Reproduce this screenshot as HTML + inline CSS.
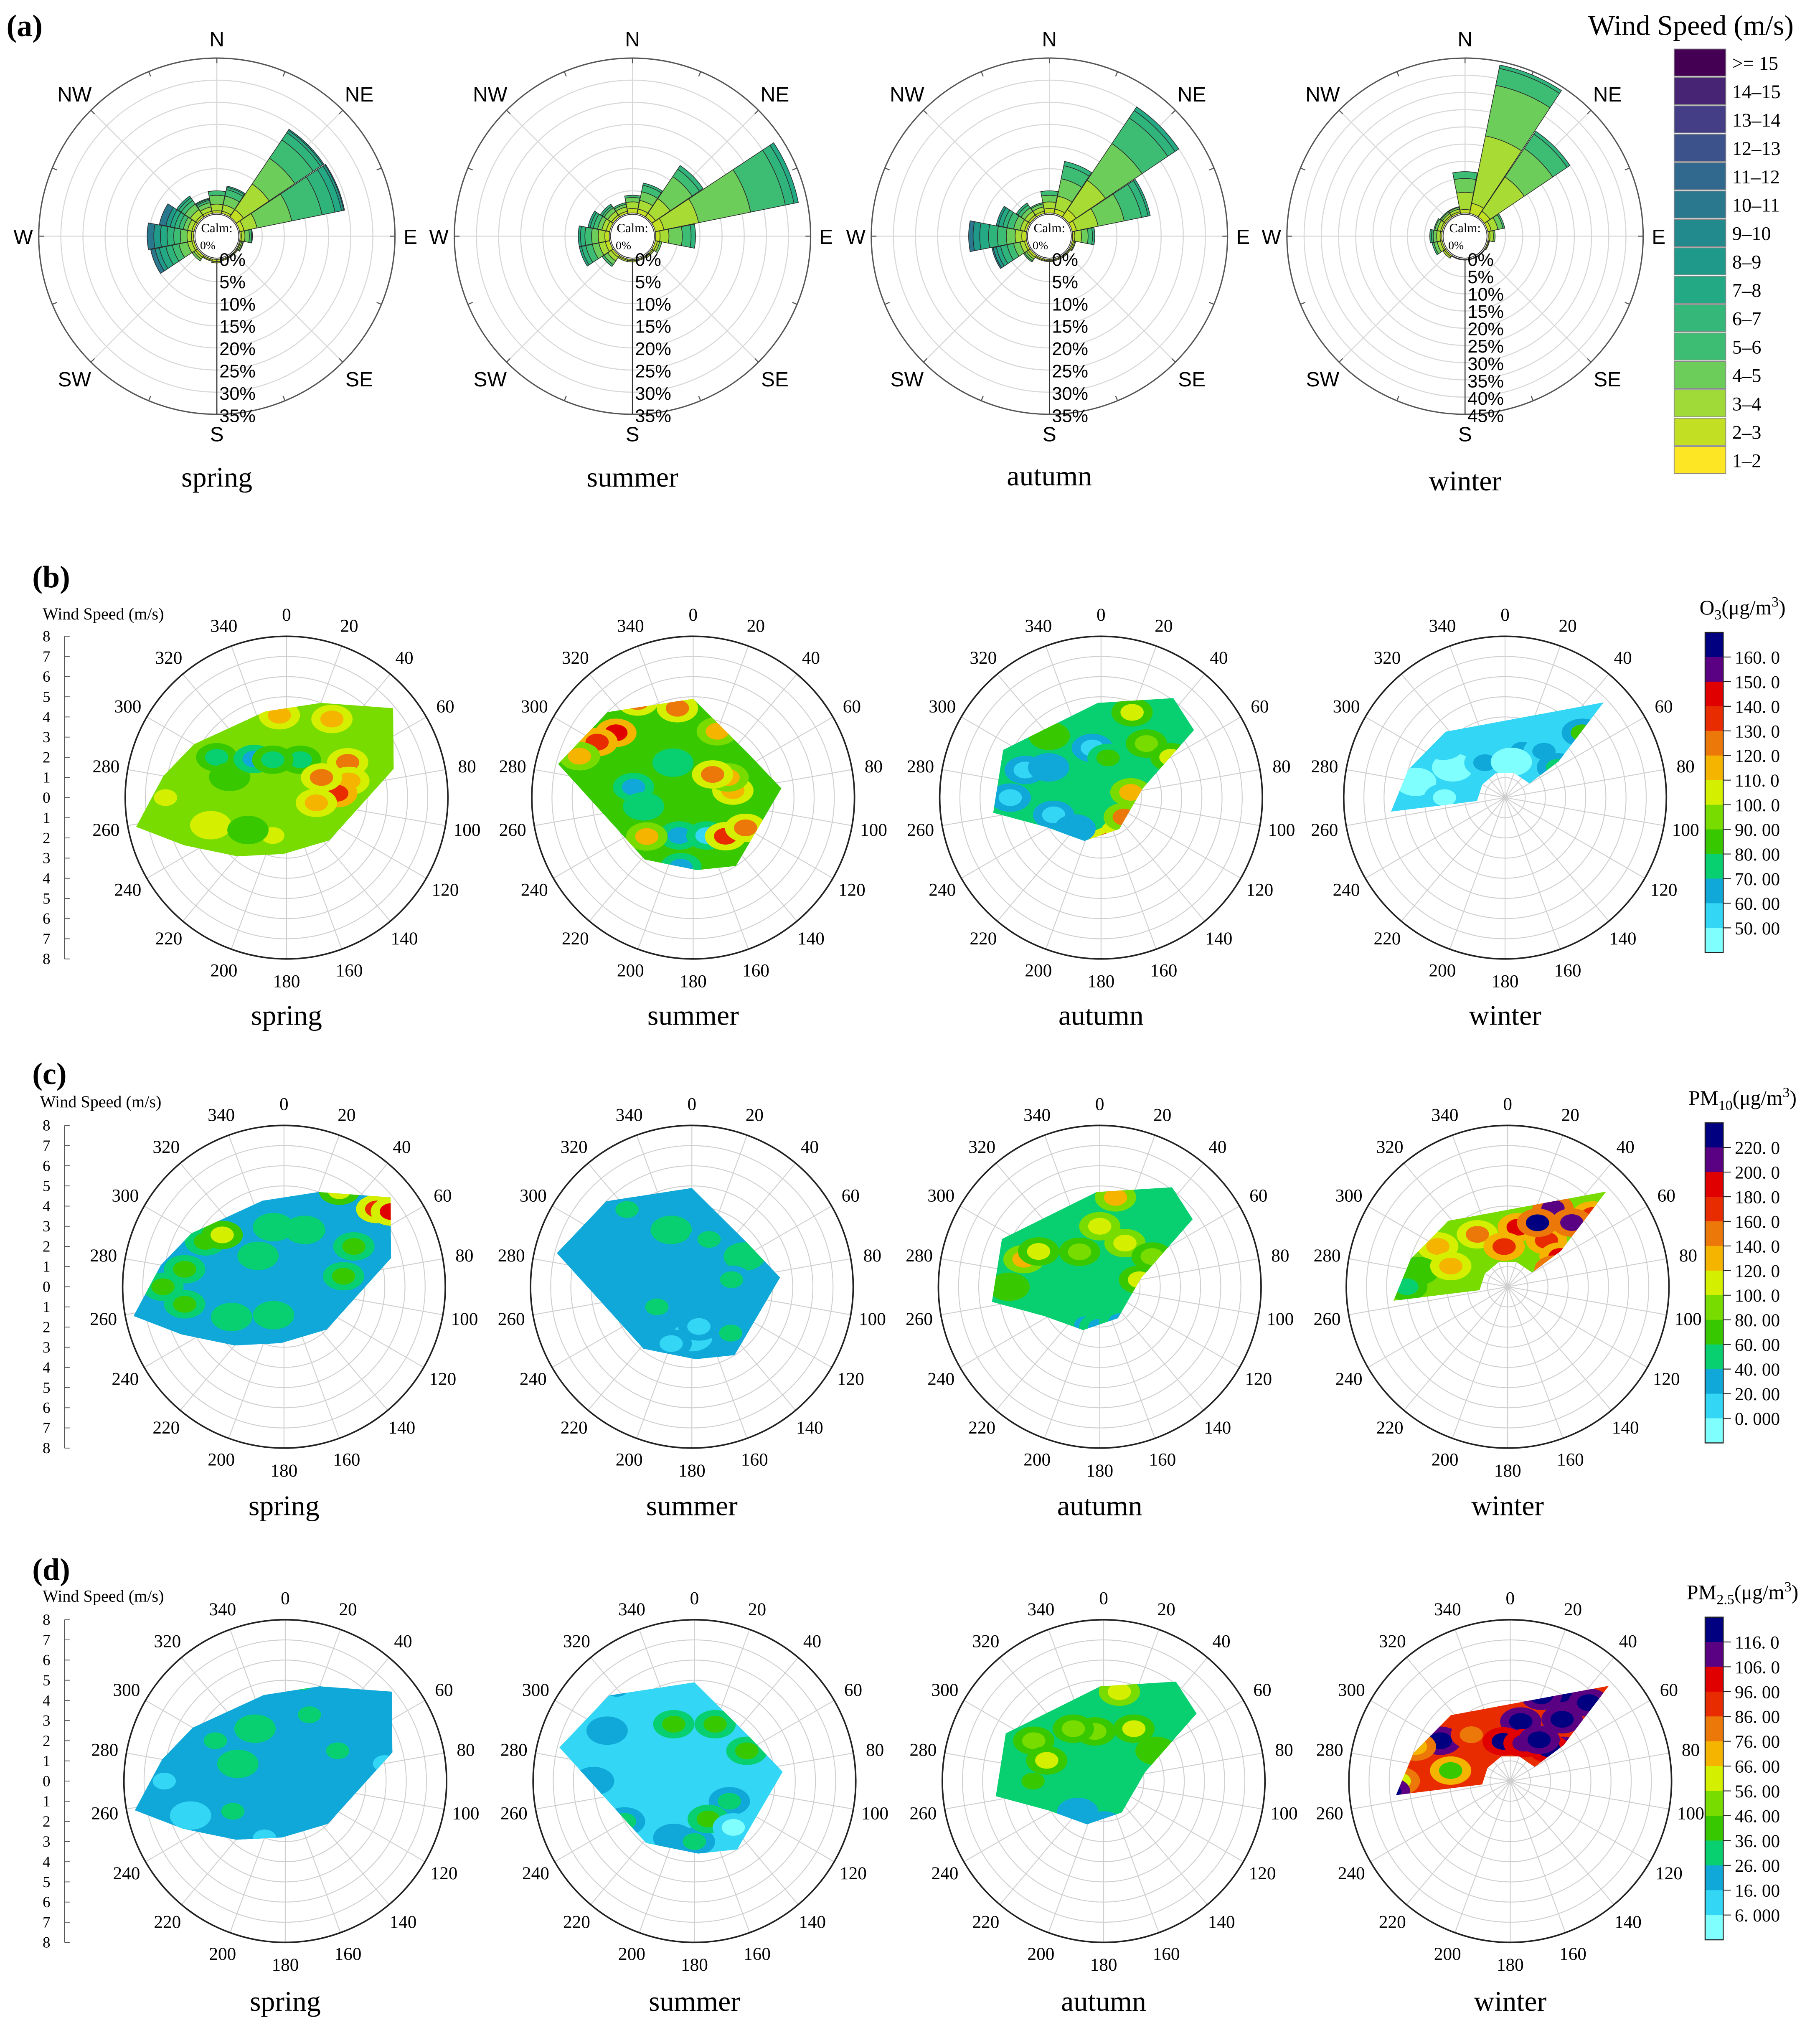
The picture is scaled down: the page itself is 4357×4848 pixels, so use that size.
<!DOCTYPE html>
<html><head><meta charset="utf-8">
<style>
html,body{margin:0;padding:0;background:#fff;}
svg{display:block;}
</style></head>
<body>
<svg id="fig" xmlns="http://www.w3.org/2000/svg" width="4357" height="4848" viewBox="0 0 1410 1569" preserveAspectRatio="none">
<rect x="0" y="0" width="1410" height="1569" fill="#fff"/>
</svg>
<script>
// ---------- DATA ----------
const dirLabels16 = ['N','NNE','NE','ENE','E','ESE','SE','SSE','S','SSW','SW','WSW','W','WNW','NW','NNW'];
const speedBinLabels = ['>= 15','14–15','13–14','12–13','11–12','10–11','9–10','8–9','7–8','6–7','5–6','4–5','3–4','2–3','1–2'];
const speedBinColors = ['#440154','#482475','#433e85','#3b528b','#31688e','#2a788e','#228a8d','#1f9a8a','#23a983','#35b779','#3dbc74','#6ccd5a','#a0da39','#c2df23','#fde725'];
// per-direction stacked frequencies (%) for bins 2-3,3-4,4-5,5-6,6-7,7-8,8-10,10+
const roseSpring = [
 [0.5,1.5,2,1],[0.5,1.5,2,1.5,0.5,0.3],[2,7,7,5,2,0.6,0.3],[1,3,8,7,3,1.5,0.5,0.2],
 [0.3,0.8,1,0.5,0.2],[0.2,0.3,0.3,0.1],[0.2,0.2],[0.2,0.2],
 [0.5,0.3],[0.3,0.2],[0.5,0.5,0.5],[0.5,1,2,1.5,1.5,1.5,1,1],
 [0.5,1,1.5,1.5,1.5,1.5,1.5,1.5],[0.5,1,1,1,1,1,1,1.5],[0.5,1.5,1.5,1,0.7,0.5],[0.5,1,1,0.5,0.3,0.2]];
const roseSummer = [
 [1,1.5,1,0.5],[1,2,2,1.5,0.5],[1,4,6,2,1],[2,8,12,8,2,1],
 [1,2,3,2,1],[0.5,0.5,0.5],[0.3,0.3],[0.2,0.2],
 [0.3,0.3],[0.3,0.3],[0.5,1,1,0.5],[1,1.5,1.5,1.5,1,0.5],
 [1,1.5,1.5,1.5,1,0.5],[0.8,1,1,1,0.7,0.5],[0.5,1,1,0.5,0.5],[0.5,1,0.6,0.4]];
const roseAutumn = [
 [1,1.5,1.5,1],[1,3,4,3,1],[2,8,10,7,2,1],[1,5,6,4,1.5,0.5],
 [0.5,1.5,1.5,1,0.5],[0.3,0.3,0.2],[0.2,0.2],[0.2,0.2],
 [0.3,0.2],[0.3,0.2],[0.5,0.5,0.5,0.3],[0.5,1,1.5,1.5,1.5,1,0.7,0.3],
 [1,1.5,2,2,2,2,1.5,1],[0.5,1,1.5,1.5,1,1,0.5],[0.5,1,1,0.8,0.5],[0.5,1,0.7,0.3]];
const roseWinter = [
 [1,5,4,2],[3,20,15,5,1],[2,12,10,5,1],[1,2,1.5,0.5],
 [0.5,1,0.5],[0.3,0.2],[0.2],[0.2],
 [0.2],[0.2],[0.5,0.5],[0.5,1,1,0.5],
 [0.5,1,1,0.5,0.5],[0.5,1,0.7,0.3],[0.5,0.7,0.5,0.3],[0.5,0.8,0.5,0.2]];
const roseBinColors = ['#c2df23','#a8db34','#6ccd5a','#3dbc74','#2fb47c','#23a983','#1f9a8a','#2a788e'];
const roseTicksA = ['0%','5%','10%','15%','20%','25%','30%','35%'];
const roseTicksW = ['0%','5%','10%','15%','20%','25%','30%','35%','40%','45%'];
const seasons = ['spring','summer','autumn','winter'];

const angleTicks = [0,20,40,60,80,100,120,140,160,180,200,220,240,260,280,300,320,340];
const speedTicks = [8,7,6,5,4,3,2,1,0,1,2,3,4,5,6,7,8];

const palette = ['#80ffff','#33d6f4','#10a8d8','#08d070','#38c800','#78dc00','#d4f000','#f4b400','#ec780a','#e82c00','#e00000','#5a0082','#000080'];
const breaksO3 = [50,60,70,80,90,100,110,120,130,140,150,160];
const breaksPM10 = [0,20,40,60,80,100,120,140,160,180,200,220];
const breaksPM25 = [6,16,26,36,46,56,66,76,86,96,106,116];
const labelsO3 = ['160. 0','150. 0','140. 0','130. 0','120. 0','110. 0','100. 0','90. 00','80. 00','70. 00','60. 00','50. 00'];
const labelsPM10 = ['220. 0','200. 0','180. 0','160. 0','140. 0','120. 0','100. 0','80. 00','60. 00','40. 00','20. 00','0. 000'];
const labelsPM25 = ['116. 0','106. 0','96. 00','86. 00','76. 00','66. 00','56. 00','46. 00','36. 00','26. 00','16. 00','6. 000'];

// hulls [direction deg, wind speed m/s]
const hullSpring = [[259,7.6],[280,6.2],[300,5.3],[346,4.4],[20,5],[50,6.9],[75,5.5],[135,3],[183,2.8],[220,3.8],[245,5.6]];
const hullSummer = [[284,6.9],[315,6],[0,4.9],[51,3.5],[84,4.4],[148,4],[177,3.6],[218,3.9]];
const hullAutumn = [[262,5.4],[296,5.4],[358,4.7],[36,6.1],[54,5.7],[78,2.1],[150,1.8],[201,2.3],[242,3.1]];
const hullWinter = [[263,5.7],[286,5],[318,4.4],[46,6.8],[56,3.2],[60,1.4],[20,1.3],[340,1.3],[300,1.3],[263,1.4]];

// base value + blobs [direction, speed, value]
const baseO3 = [93,85,72,52];
const blobsO3Spring = [[355,4.1,115],[30,4.5,112],[60,3.5,125],[75,3.2,118],[85,2.5,130],[300,4,70],[290,3,82],[320,2.5,65],[270,6,105],[250,4,108],[20,2,75],[200,2,105],[230,2.5,85],[60,2,120],[100,1.5,110],[340,2,70],[280,5,95]];
const blobsO3Summer = [[310,5,145],[300,5.5,138],[330,5.5,125],[350,4.5,120],[20,3.5,110],[200,2,60],[160,2,55],[140,2.5,130],[120,3,120],[80,2,115],[60,2,112],[280,3,65],[260,2.5,70],[230,3,110],[190,3.5,60],[290,6,110],[40,1.5,125],[330,2,70]];
const blobsO3Autumn = [[270,4.5,55],[290,4,52],[300,3,60],[20,4.5,105],[40,3.5,95],[60,4,100],[150,2,145],[170,2.2,135],[130,1.5,125],[80,1.5,110],[350,2.5,58],[250,2.5,55],[320,4,88],[10,2,85],[220,2,65]];
const blobsO3Winter = [[300,3,45],[280,4.5,45],[330,2,62],[20,2.5,62],[40,3,65],[50,5,80],[60,3,70],[10,1.8,45],[270,3,48],[310,4,58]];
const basePM10 = [30,30,55,85];
const blobsPM10Spring = [[50,6,170],[55,6.5,195],[30,5.5,100],[300,4.5,70],[310,4,110],[280,5,60],[350,3,55],[20,3,50],[60,4,60],[260,5,60],[240,3,50],[80,3,70],[320,2,50],[270,6,70],[200,1.5,50]];
const blobsPM10Summer = [[180,2.5,5],[170,2,12],[200,3,15],[340,3,50],[20,2.5,45],[60,3,50],[300,5,20],[80,2,45],[140,3,40],[240,2,45],[320,5,45]];
const blobsPM10Autumn = [[10,4.5,130],[0,3,110],[290,4,130],[300,3.5,100],[30,2.5,110],[60,3,90],[200,2,35],[180,2,30],[240,3,40],[150,2,35],[330,2,85],[270,4.5,75],[80,2,100]];
const blobsPM10Winter = [[20,5,230],[30,4.5,210],[10,3,180],[40,3,170],[60,3,190],[330,3,150],[300,4,130],[280,4.5,60],[270,5,40],[320,5,100],[50,5.5,175],[355,2,160],[70,2.5,200],[290,3,120],[25,3.5,230],[45,4.5,200]];
const basePM25 = [20,12,30,92];
const blobsPM25Spring = [[270,6,12],[250,5,10],[200,3,12],[300,4,30],[330,3,32],[20,3.5,30],[60,3,28],[290,2.5,35],[10,5,30],[80,5,12],[240,3,28]];
const blobsPM25Summer = [[300,5,20],[270,5,20],[200,3,20],[180,3,28],[340,3,40],[20,3,45],[60,3,40],[120,2,30],[160,2,40],[320,6,18],[240,4,30],[140,3,5]];
const blobsPM25Autumn = [[10,4.5,65],[30,3,60],[350,2.5,55],[300,4,50],[330,3,48],[60,3,45],[220,2,20],[180,2.2,18],[270,3.5,40],[290,3,60],[90,1.5,35]];
const blobsPM25Winter = [[30,5,125],[40,4,120],[10,3,120],[60,3,122],[50,2.5,118],[20,4.5,125],[45,5.5,125],[300,4,125],[290,5,70],[270,5.5,60],[265,6,125],[320,3,80],[350,2,118],[20,2,110],[280,3,40],[330,5,55],[35,2.5,125]];

// ---------- DRAWING ----------
const NS='http://www.w3.org/2000/svg';
const svg=document.getElementById('fig');
function el(tag,attrs,parent){const e=document.createElementNS(NS,tag);for(const k in attrs)e.setAttribute(k,attrs[k]);(parent||svg).appendChild(e);return e;}
function txt(x,y,s,size,fam,parent,anchor,weight){const t=el('text',{x:x,y:y,'font-size':size,'font-family':fam,'text-anchor':anchor||'middle','fill':'#000'},parent);if(weight)t.setAttribute('font-weight',weight);t.textContent=s;return t;}
const SERIF='"Liberation Serif", serif', SANS='"Liberation Sans", sans-serif';
function pol(cx,cy,r,deg){const a=deg*Math.PI/180;return [cx+r*Math.sin(a),cy-r*Math.cos(a)];}
function sector(cx,cy,r0,r1,a0,a1){const p1=pol(cx,cy,r0,a0),p2=pol(cx,cy,r1,a0),p3=pol(cx,cy,r1,a1),p4=pol(cx,cy,r0,a1);
 return `M${p1[0]},${p1[1]}L${p2[0]},${p2[1]}A${r1},${r1} 0 0 1 ${p3[0]},${p3[1]}L${p4[0]},${p4[1]}A${r0},${r0} 0 0 0 ${p1[0]},${p1[1]}Z`;}

// panel letters
[['(a)',5,28],['(b)',25,455],['(c)',25,840],['(d)',25,1224]].forEach(p=>{
 const t=txt(p[1],p[2],p[0],24,SERIF,svg,'start','bold');
 
 
});

// ---- wind roses ----
const roseData=[roseSpring,roseSummer,roseAutumn,roseWinter];
const roseCx=[168,490,813,1135];
const roseCy=183, roseR=138, calmR=18;
roseData.forEach((data,si)=>{
 const cx=roseCx[si];
 const maxPct = si===3?45:35;
 const ticks = si===3?roseTicksW:roseTicksA;
 const g=el('g',{});
 
 
 const rr=p=>calmR+p/maxPct*(roseR-calmR);
 for(let k=1;k<ticks.length-1;k++){
  el('circle',{cx:cx,cy:roseCy,r:rr(k*5),fill:'none',stroke:'#d8d8d8','stroke-width':0.8},g);
 }
 for(let a=0;a<360;a+=45){const p=pol(cx,roseCy,roseR,a);el('line',{x1:cx,y1:roseCy,x2:p[0],y2:p[1],stroke:'#d8d8d8','stroke-width':0.8},g);}
 el('circle',{cx:cx,cy:roseCy,r:roseR,fill:'none',stroke:'#555','stroke-width':1},g);
 for(let a=0;a<360;a+=22.5){const p=pol(cx,roseCy,roseR,a),q=pol(cx,roseCy,roseR-4,a);el('line',{x1:p[0],y1:p[1],x2:q[0],y2:q[1],stroke:'#555','stroke-width':0.8},g);}
 data.forEach((bins,di)=>{
  let cum=0;const a=di*22.5;
  bins.forEach((v,bi)=>{
   const p=el('path',{d:sector(cx,roseCy,rr(cum),rr(cum+v),a-11,a+11),fill:roseBinColors[bi],stroke:'#2a2a2a','stroke-width':0.5},g);
   
   
   cum+=v;
  });
 });
 el('circle',{cx:cx,cy:roseCy,r:calmR-1,fill:'#fff',stroke:'#333','stroke-width':0.6},g);
 txt(cx,roseCy-3,'Calm:',10,SERIF,g);
 txt(cx-7,roseCy+10,'0%',9,SERIF,g);
 el('line',{x1:cx,y1:roseCy+calmR,x2:cx,y2:roseCy+roseR,stroke:'#333','stroke-width':0.8},g);
 const step=(322-201)/(ticks.length-1);
 ticks.forEach((t,i)=>{const tt=txt(cx+2,201+i*step+5,t,14,SANS,g,'start');
  
  });
 const comp=[['N',0,153],['NE',45,156],['E',90,150],['SE',135,156],['S',180,153],['SW',225,156],['W',270,150],['NW',315,156]];
 comp.forEach(c=>{const p=pol(cx,roseCy,c[2],c[1]);const ct=txt(p[0],p[1]+6,c[0],16,SANS,g);
  
  });
 const sl=txt(cx,[377,377,376,380][si],seasons[si],22,SERIF,g);
 
 
});
// wind speed legend
{
 const g=el('g',{});
 
 
 txt(1310,27,'Wind Speed (m/s)',22,SERIF,g);
 speedBinLabels.forEach((l,i)=>{
  const y=38+i*22;
  const r=el('rect',{x:1297,y:y,width:40,height:21,fill:speedBinColors[i],stroke:'#888','stroke-width':0.6},g);
  
  
  txt(1342,y+16,l,15,SERIF,g,'start');
 });
}

// ---- polar contour panels ----
function colorFor(v,breaks){let i=0;while(i<breaks.length&&v>=breaks[i])i++;return palette[i];}
const rows=[
 {cy:618,cxs:[222,537,853,1166],base:baseO3,blobs:[blobsO3Spring,blobsO3Summer,blobsO3Autumn,blobsO3Winter],breaks:breaksO3,labels:labelsO3,name:'o3',sy:[794,794,794,794],axTitleY:480,cb:{y0:490,y1:738}},
 {cy:997,cxs:[220,536,852,1168],base:basePM10,blobs:[blobsPM10Spring,blobsPM10Summer,blobsPM10Autumn,blobsPM10Winter],breaks:breaksPM10,labels:labelsPM10,name:'pm10',sy:[1174,1174,1174,1174],axTitleY:858,cb:{y0:870,y1:1118}},
 {cy:1380,cxs:[221,538,855,1170],base:basePM25,blobs:[blobsPM25Spring,blobsPM25Summer,blobsPM25Autumn,blobsPM25Winter],breaks:breaksPM25,labels:labelsPM25,name:'pm25',sy:[1558,1558,1558,1558],axTitleY:1241,cb:{y0:1253,y1:1503}}
];
const hulls=[hullSpring,hullSummer,hullAutumn,hullWinter];
const R=125, sPer=R/8;
let clipId=0;
rows.forEach((row,ri)=>{
 const ax=el('g',{});
 
 
 el('line',{x1:50,y1:row.cy-R,x2:50,y2:row.cy+R,stroke:'#555','stroke-width':0.8},ax);
 speedTicks.forEach((t,i)=>{const y=row.cy-R+i*(2*R/(speedTicks.length-1));
  el('line',{x1:50,y1:y,x2:54,y2:y,stroke:'#555','stroke-width':0.6},ax);
  txt(36,y+4,String(t),12,SERIF,ax);});
 txt([80,78,80][ri],row.axTitleY,'Wind Speed (m/s)',13,SERIF,ax);

 row.cxs.forEach((cx,si)=>{
  const cy=row.cy;
  const g=el('g',{});
  
  
  for(let k=1;k<=8;k++)el('circle',{cx:cx,cy:cy,r:k*sPer,fill:'none',stroke:'#cfcfcf','stroke-width':0.7},g);
  angleTicks.forEach(a=>{const p=pol(cx,cy,R,a);el('line',{x1:cx,y1:cy,x2:p[0],y2:p[1],stroke:'#cfcfcf','stroke-width':0.7},g);});
  const id='clip'+(clipId++);
  const cp=el('clipPath',{id:id},g);
  const pts=hulls[si].map(h=>pol(cx,cy,h[1]*sPer,h[0]).join(',')).join(' ');
  el('polygon',{points:pts},cp);
  const fg=el('g',{'clip-path':`url(#${id})`},g);
  const bg=el('polygon',{points:pts,fill:colorFor(row.base[si],row.breaks)},fg);
  
  
  row.blobs[si].forEach(b=>{
   const p=pol(cx,cy,b[1]*sPer,b[0]);
   const mid=(b[2]+row.base[si])/2;
   const c1=el('ellipse',{cx:p[0],cy:p[1],rx:16,ry:11,fill:colorFor(mid,row.breaks)},fg);
   
   
   const c2=el('ellipse',{cx:p[0],cy:p[1],rx:9,ry:6.5,fill:colorFor(b[2],row.breaks)},fg);
   
   
  });
  el('circle',{cx:cx,cy:cy,r:R,fill:'none',stroke:'#222','stroke-width':1.2},g);
  angleTicks.forEach(a=>{const p=pol(cx,cy,R+17,a);const t=txt(p[0],p[1]+5,String(a),14,SERIF,g);
   
   });
  const sl=txt(cx,row.sy[si],seasons[si],22,SERIF,g);
  
  
 });
 const cbg=el('g',{});
 
 
 const n=palette.length, h=(row.cb.y1-row.cb.y0)/n;
 for(let i=0;i<n;i++){
  const r=el('rect',{x:1321,y:row.cb.y0+i*h,width:14,height:h+0.3,fill:palette[n-1-i]},cbg);
  
  
 }
 el('rect',{x:1321,y:row.cb.y0,width:14,height:row.cb.y1-row.cb.y0,fill:'none',stroke:'#222','stroke-width':0.8},cbg);
 row.labels.forEach((l,i)=>{const y=row.cb.y0+(i+1)*h;
  el('line',{x1:1335,y1:y,x2:1341,y2:y,stroke:'#222','stroke-width':0.7},cbg);
  txt(1344,y+5,l,14,SERIF,cbg,'start');});
 const ty=row.cb.y0-14;
 const title=el('text',{x:1350,y:ty,'font-size':16,'font-family':SERIF,'text-anchor':'middle'},cbg);
 
 
 const sub=ri===0?'3':(ri===1?'10':'2.5');
 const pre=ri===0?'O':'PM';
 title.innerHTML=`${pre}<tspan font-size="11" dy="4">${sub}</tspan><tspan dy="-4">(μg/m</tspan><tspan font-size="11" dy="-6">3</tspan><tspan dy="6">)</tspan>`;
});
</script>
</body></html>
